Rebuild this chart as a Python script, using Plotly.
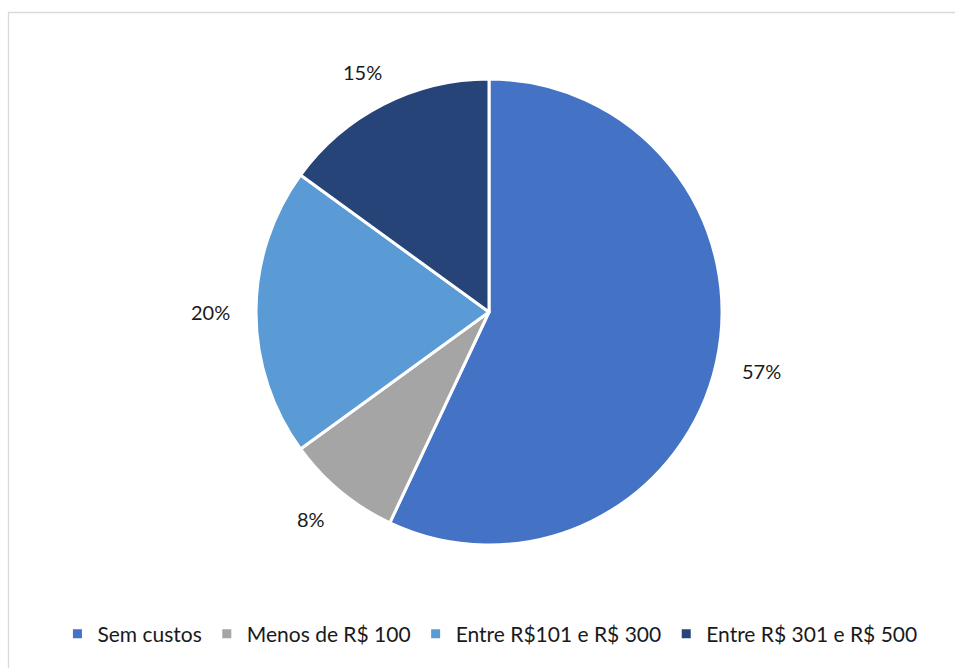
import math
import plotly.graph_objects as go

categories = ["Sem custos", "Menos de R$ 100", "Entre R$101 e R$ 300", "Entre R$ 301 e R$ 500"]
values = [57, 8, 20, 15]
colors = ["#4472C4", "#A5A5A5", "#5B9BD5", "#264478"]

W, H = 955, 668
cx, cy, R = 489, 312, 233  # pixel layout of pie
FONT = "Lato, Carlito, Calibri, sans-serif"

fig = go.Figure(go.Pie(
    labels=categories, values=values, sort=False, direction="clockwise", rotation=0,
    marker=dict(colors=colors, line=dict(color="white", width=3)),
    textinfo="none", hoverinfo="label+percent",
    domain=dict(x=[(cx - R) / W, (cx + R) / W], y=[1 - (cy + R) / H, 1 - (cy - R) / H]),
))

# percentage labels placed outside, angle derived from values
total = sum(values)
cum = 0
annotations = []
for v in values:
    mid = (cum + v / 2) / total * 2 * math.pi
    cum += v
    ux, uy = math.sin(mid), -math.cos(mid)
    r = R + 24
    px = cx + r * ux + 22 * ux
    py = cy + r * uy + 12 * uy
    annotations.append(dict(
        x=px / W, y=1 - py / H, xref="paper", yref="paper",
        text=f"{round(v / total * 100)}%", showarrow=False,
        font=dict(family=FONT, size=20, color="#1a1a1a"),
        xanchor="center", yanchor="middle",
    ))

fig.update_layout(
    width=W, height=H,
    margin=dict(l=0, r=0, t=0, b=0),
    paper_bgcolor="white", plot_bgcolor="white",
    annotations=annotations,
    showlegend=True,
    legend=dict(orientation="h", x=0.513, xanchor="center", y=1 - 634 / H, yanchor="middle",
                font=dict(family=FONT, size=21, color="#1a1a1a"),
                itemwidth=30, traceorder="normal"),
    shapes=[dict(type="rect", xref="paper", yref="paper",
                 x0=8.5 / W, x1=1.05, y0=-0.05, y1=1 - 12.5 / H,
                 line=dict(color="#D9D9D9", width=1.3), fillcolor="rgba(0,0,0,0)")],
)

fig.write_html("out.html", config={"displayModeBar": False},
               post_script="document.body.style.margin='0';document.body.style.overflow='hidden';")
